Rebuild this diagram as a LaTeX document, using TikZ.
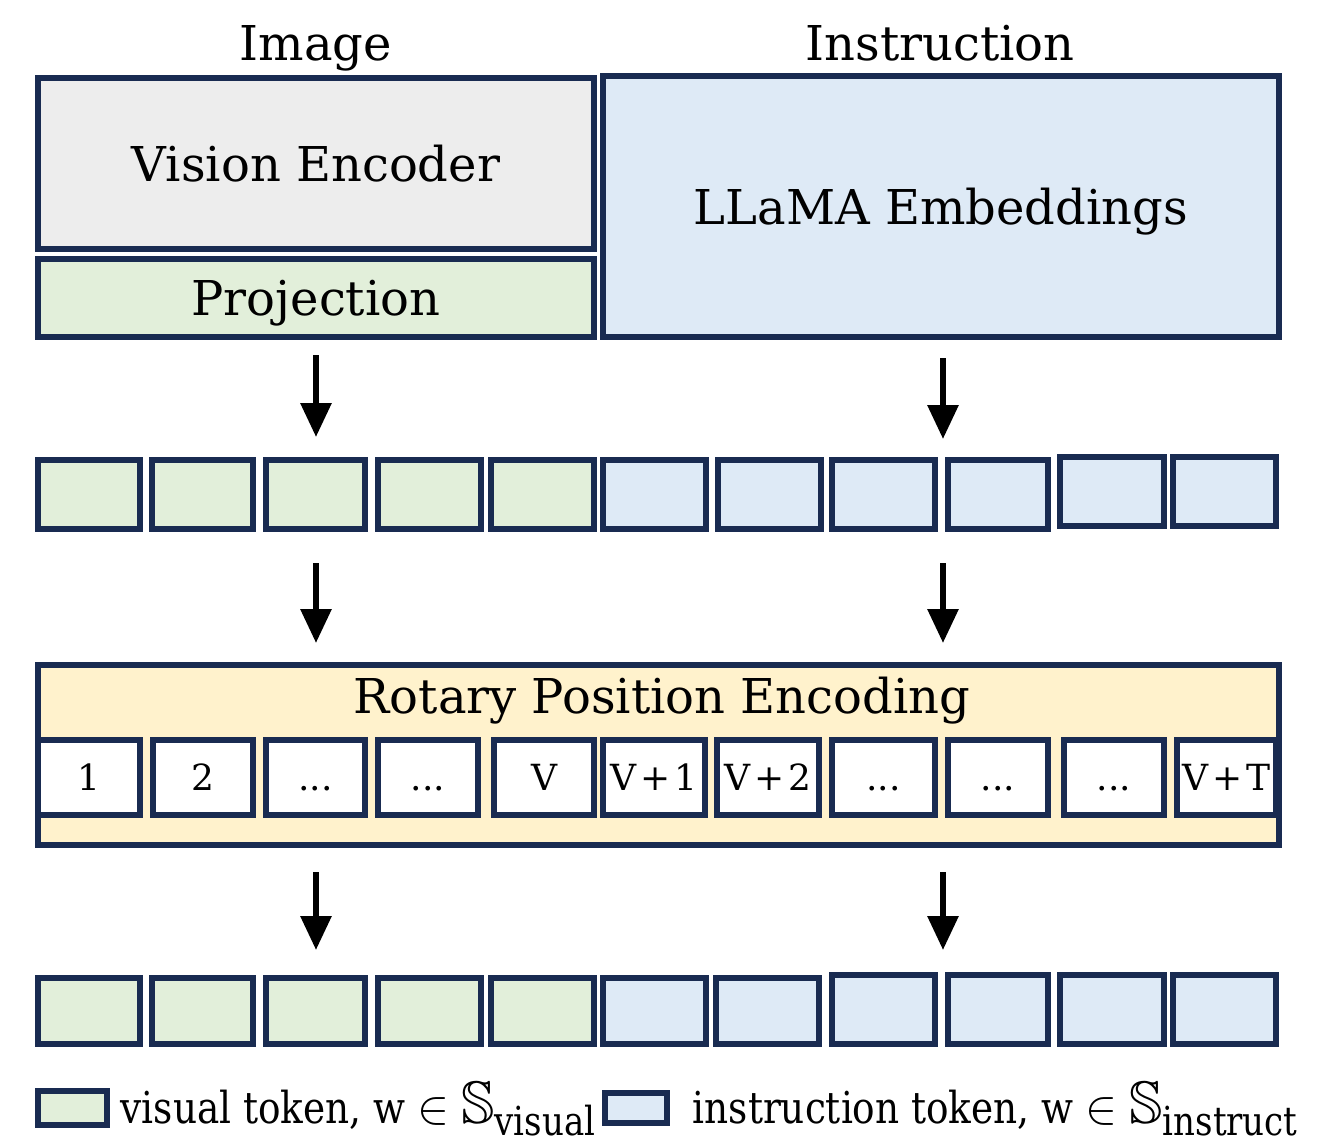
\documentclass[tikz,border=0pt]{standalone}
\usepackage{fontspec}
\usepackage{amssymb}
\setmainfont{DejaVu Serif}
\newfontfamily\legfont[FakeStretch=0.85]{DejaVu Serif}
\usetikzlibrary{arrows.meta,fit}
\definecolor{navy}{RGB}{25,43,81}
\definecolor{vgreen}{RGB}{226,239,218}
\definecolor{iblue}{RGB}{222,234,246}
\definecolor{vgray}{RGB}{237,237,237}
\definecolor{ryellow}{RGB}{255,242,204}
\newcommand\tokbox[6]{\node[tok, fill=#6, fit={(#2+3,#3+3) (#4-3,#5-3)}] (#1) {};}
\newcommand\posbox[6]{\node[tok, fill=white, fit={(#2+3,#3+3) (#4-3,#5-3)}] (#1) {};
  \node[poslbl] (#1t) at (#1.center) {#6};}
\newcommand\txtbox[7]{\node[tok, fill=#6, fit={(#2+3,#3+3) (#4-3,#5-3)}] (#1) {};
  \node[mainlbl] (#1t) at (#1.center) {#7};}
\begin{document}
\begin{tikzpicture}[x=0.25pt,y=-0.25pt,
  tok/.style={draw=navy, line width=1.5pt, inner sep=0pt, outer sep=0pt},
  mainlbl/.style={font=\fontsize{12}{14}\selectfont, text height=8.75pt, text depth=0pt, inner sep=0pt},
  poslbl/.style={font=\fontsize{9}{10}\selectfont, text height=6.5pt, text depth=0pt, inner sep=0pt},
  ttl/.style={font=\fontsize{12}{14}\selectfont, anchor=base, inner sep=0pt},
  leg/.style={font=\legfont\fontsize{11}{13}\selectfont, anchor=base west, inner sep=0pt},
  arr/.style={line width=1.5pt, -{Triangle[width=7.5pt,length=8.5pt]}}]
\useasboundingbox (0,0) rectangle (1320,1139);

% titles
\node[ttl] (timg) at (316,60) {Image};
\node[ttl] (tins) at (940,60) {Instruction};

% top blocks
\txtbox{ve}{35}{75}{597}{252}{vgray}{Vision Encoder}
\txtbox{proj}{35}{256}{597}{340}{vgreen}{Projection}
\txtbox{llama}{600}{73}{1282}{340}{iblue}{LLaMA Embeddings}

% arrows row 1
\coordinate (a1s) at (316,355); \coordinate (a1e) at (316,437);
\coordinate (a2s) at (943,358); \coordinate (a2e) at (943,439);
\draw[arr] (a1s) -- (a1e);
\draw[arr] (a2s) -- (a2e);

% token row 1
\tokbox{r1a}{35}{457}{143}{532}{vgreen}
\tokbox{r1b}{149}{457}{256}{532}{vgreen}
\tokbox{r1c}{263}{457}{368}{532}{vgreen}
\tokbox{r1d}{375}{457}{484}{532}{vgreen}
\tokbox{r1e}{488}{457}{597}{532}{vgreen}
\tokbox{r1f}{600}{457}{709}{532}{iblue}
\tokbox{r1g}{715}{457}{824}{532}{iblue}
\tokbox{r1h}{829}{457}{938}{532}{iblue}
\tokbox{r1i}{945}{457}{1051}{532}{iblue}
\tokbox{r1j}{1057}{454}{1167}{529}{iblue}
\tokbox{r1k}{1170}{454}{1279}{529}{iblue}

% arrows row 2
\coordinate (a3s) at (316,563); \coordinate (a3e) at (316,643);
\coordinate (a4s) at (943,563); \coordinate (a4e) at (943,643);
\draw[arr] (a3s) -- (a3e);
\draw[arr] (a4s) -- (a4e);

% rotary position encoding
\tokbox{rope}{35}{662}{1282}{848}{ryellow}
\node[ttl] (ropet) at (662,713) {Rotary Position Encoding};
\posbox{p1}{35}{737}{143}{818}{1}
\posbox{p2}{150}{737}{256}{818}{2}
\posbox{p3}{263}{737}{368}{818}{...}
\posbox{p4}{375}{737}{481}{818}{...}
\posbox{p5}{491}{737}{597}{818}{V}
\posbox{p6}{600}{737}{708}{818}{V\kern1pt+\kern1pt1}
\posbox{p7}{714}{737}{822}{818}{V\kern1pt+\kern1pt2}
\posbox{p8}{829}{737}{938}{818}{...}
\posbox{p9}{945}{737}{1051}{818}{...}
\posbox{p10}{1061}{737}{1167}{818}{...}
\posbox{p11}{1174}{737}{1279}{818}{V\kern1pt+\kern1pt T}

% arrows row 3
\coordinate (a5s) at (316,872); \coordinate (a5e) at (316,950);
\coordinate (a6s) at (943,872); \coordinate (a6e) at (943,950);
\draw[arr] (a5s) -- (a5e);
\draw[arr] (a6s) -- (a6e);

% token row 3
\tokbox{r3a}{35}{975}{143}{1047}{vgreen}
\tokbox{r3b}{149}{975}{256}{1047}{vgreen}
\tokbox{r3c}{263}{975}{368}{1047}{vgreen}
\tokbox{r3d}{375}{975}{484}{1047}{vgreen}
\tokbox{r3e}{488}{975}{597}{1047}{vgreen}
\tokbox{r3f}{600}{975}{709}{1047}{iblue}
\tokbox{r3g}{713}{975}{822}{1047}{iblue}
\tokbox{r3h}{829}{972}{938}{1047}{iblue}
\tokbox{r3i}{945}{972}{1051}{1047}{iblue}
\tokbox{r3j}{1057}{972}{1167}{1047}{iblue}
\tokbox{r3k}{1170}{972}{1279}{1047}{iblue}

% legend
\tokbox{lgv}{35}{1088}{110}{1128}{vgreen}
\node[leg] (lgvt) at (120,1123) {visual token, w {\fontsize{13}{13}\selectfont$\in$} {\fontsize{15}{15}\selectfont$\mathbb{S}$}\raisebox{-3pt}{\fontsize{10}{11}\selectfont visual}};
\tokbox{lgi}{602}{1090}{670}{1126}{iblue}
\node[leg] (lgit) at (692,1123) {instruction token, w {\fontsize{13}{13}\selectfont$\in$} {\fontsize{15}{15}\selectfont$\mathbb{S}$}\raisebox{-3pt}{\fontsize{10}{11}\selectfont instruct}};
\end{tikzpicture}
\end{document}
